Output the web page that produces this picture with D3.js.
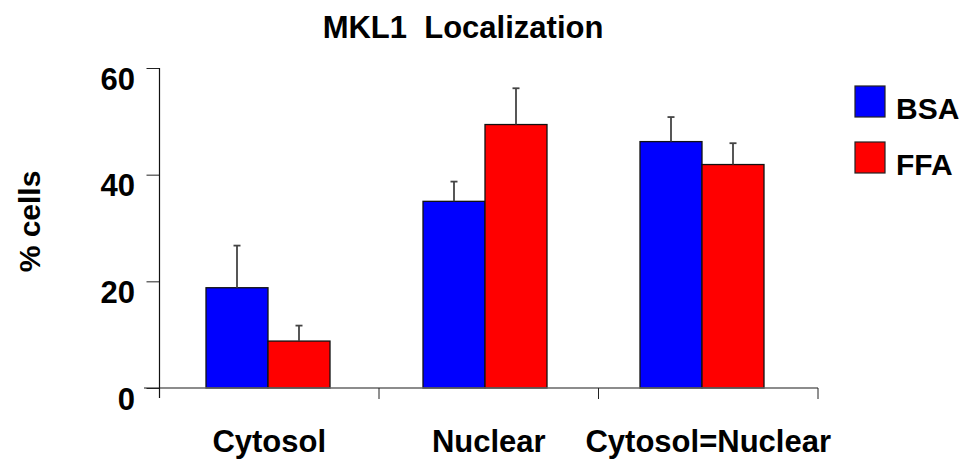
<!DOCTYPE html>
<html>
<head>
<meta charset="utf-8">
<script src="https://cdn.jsdelivr.net/npm/d3@7"></script>
<style>
  html, body { margin: 0; padding: 0; background: #fff; }
  svg { display: block; }
  text { font-family: "Liberation Sans", Arial, sans-serif; font-weight: bold; fill: #000; white-space: pre; }
</style>
</head>
<body>
<svg id="chart" width="969" height="459"></svg>
<script>
// Categories, series and values (% cells, mean and SEM)
const categories = ["Cytosol", "Nuclear", "Cytosol=Nuclear"];
const seriesNames = ["BSA", "FFA"];
const seriesColors = ["#0000ff", "#ff0000"];
const bsaValues = [18.8, 35.0, 46.2];
const bsaErrors = [7.9, 3.7, 4.6];
const ffaValues = [8.8, 49.4, 41.9];
const ffaErrors = [2.9, 6.8, 4.0];
const yTicks = [0, 20, 40, 60];
const titleText = "MKL1  Localization";
const yLabel = "% cells";

const series = [
  { name: seriesNames[0], color: seriesColors[0], values: bsaValues, errors: bsaErrors },
  { name: seriesNames[1], color: seriesColors[1], values: ffaValues, errors: ffaErrors }
];

const rows = [];
categories.forEach((c, i) => {
  series.forEach(s => rows.push({ cat: c, name: s.name, color: s.color, value: s.values[i], err: s.errors[i] }));
});

const svg = d3.select("#chart");

// Axis bands (ticks and labels) and bar bands (groups of bars)
const xAxisScale = d3.scaleBand().domain(categories).range([159.5, 818]).paddingInner(0).paddingOuter(0);
const x0 = d3.scaleBand().domain(categories).range([159.5, 810.5]).paddingInner(0).paddingOuter(0);
const x1 = d3.scaleBand().domain(seriesNames).range([0, x0.bandwidth()]).paddingInner(0).paddingOuter(0.75);
const y = d3.scaleLinear().domain([0, 60]).range([388, 68]);

// Title
svg.append("text")
  .attr("x", 463).attr("y", 38)
  .attr("text-anchor", "middle")
  .style("font-size", "31px")
  .text(titleText);

// Y axis title
svg.append("text")
  .attr("transform", "translate(40,221.5) rotate(-90)")
  .attr("text-anchor", "middle")
  .style("font-size", "30px")
  .text(yLabel);

// Bars
svg.append("g").selectAll("rect")
  .data(rows)
  .join("rect")
  .attr("x", d => x0(d.cat) + x1(d.name))
  .attr("y", d => y(d.value))
  .attr("width", x1.bandwidth())
  .attr("height", d => y(0) - y(d.value))
  .attr("fill", d => d.color)
  .attr("stroke", "#111")
  .attr("stroke-width", 1.3);

// Error bars (upper half only)
const cx = d => x0(d.cat) + x1(d.name) + x1.bandwidth() / 2;
const eb = svg.append("g").attr("stroke", "#444").attr("stroke-width", 1.8);
eb.selectAll("line.stem")
  .data(rows)
  .join("line")
  .attr("class", "stem")
  .attr("x1", cx).attr("x2", cx)
  .attr("y1", d => y(d.value))
  .attr("y2", d => y(d.value + d.err));
eb.selectAll("line.cap")
  .data(rows)
  .join("line")
  .attr("class", "cap")
  .attr("x1", d => cx(d) - 3.5)
  .attr("x2", d => cx(d) + 3.5)
  .attr("y1", d => y(d.value + d.err))
  .attr("y2", d => y(d.value + d.err));

// X baseline and category ticks
svg.append("line")
  .attr("x1", 144).attr("x2", 818)
  .attr("y1", y(0)).attr("y2", y(0))
  .attr("stroke", "#666").attr("stroke-width", 1.5);
const xTickPos = categories.map(c => xAxisScale(c)).concat([xAxisScale.range()[1]]);
svg.append("g").selectAll("line")
  .data(xTickPos.slice(1))
  .join("line")
  .attr("x1", d => d).attr("x2", d => d)
  .attr("y1", y(0)).attr("y2", y(0) + 11)
  .attr("stroke", "#222").attr("stroke-width", 1);

// Category labels
svg.append("g").selectAll("text")
  .data(categories)
  .join("text")
  .attr("x", d => xAxisScale(d) + xAxisScale.bandwidth() / 2)
  .attr("y", 452)
  .attr("text-anchor", "middle")
  .style("font-size", "31px")
  .text(d => d);

// Y axis
const yAxis = d3.axisLeft(y).tickValues(yTicks).tickSize(13).tickFormat("");
const yg = svg.append("g").attr("transform", "translate(159.5,0)").call(yAxis);
yg.select(".domain").remove();
yg.selectAll(".tick line").attr("stroke", "#222");
svg.append("line")
  .attr("x1", 159.5).attr("x2", 159.5)
  .attr("y1", y(60)).attr("y2", y(0) + 10)
  .attr("stroke", "#111").attr("stroke-width", 1.2);

// Y tick labels, hanging just below each tick
svg.append("g").selectAll("text")
  .data(yTicks)
  .join("text")
  .attr("x", 135)
  .attr("y", d => y(d) + 21.5)
  .attr("text-anchor", "end")
  .style("font-size", "31px")
  .text(d => d);

// Legend
const lg = svg.append("g").selectAll("g")
  .data(series)
  .join("g")
  .attr("transform", (d, i) => `translate(855,${86 + i * 56})`);
lg.append("rect")
  .attr("width", 30).attr("height", 31)
  .attr("fill", d => d.color)
  .attr("stroke", "#222").attr("stroke-width", 1.2);
lg.append("text")
  .attr("x", 41).attr("y", 33)
  .style("font-size", "30px")
  .text(d => d.name);
</script>
</body>
</html>
